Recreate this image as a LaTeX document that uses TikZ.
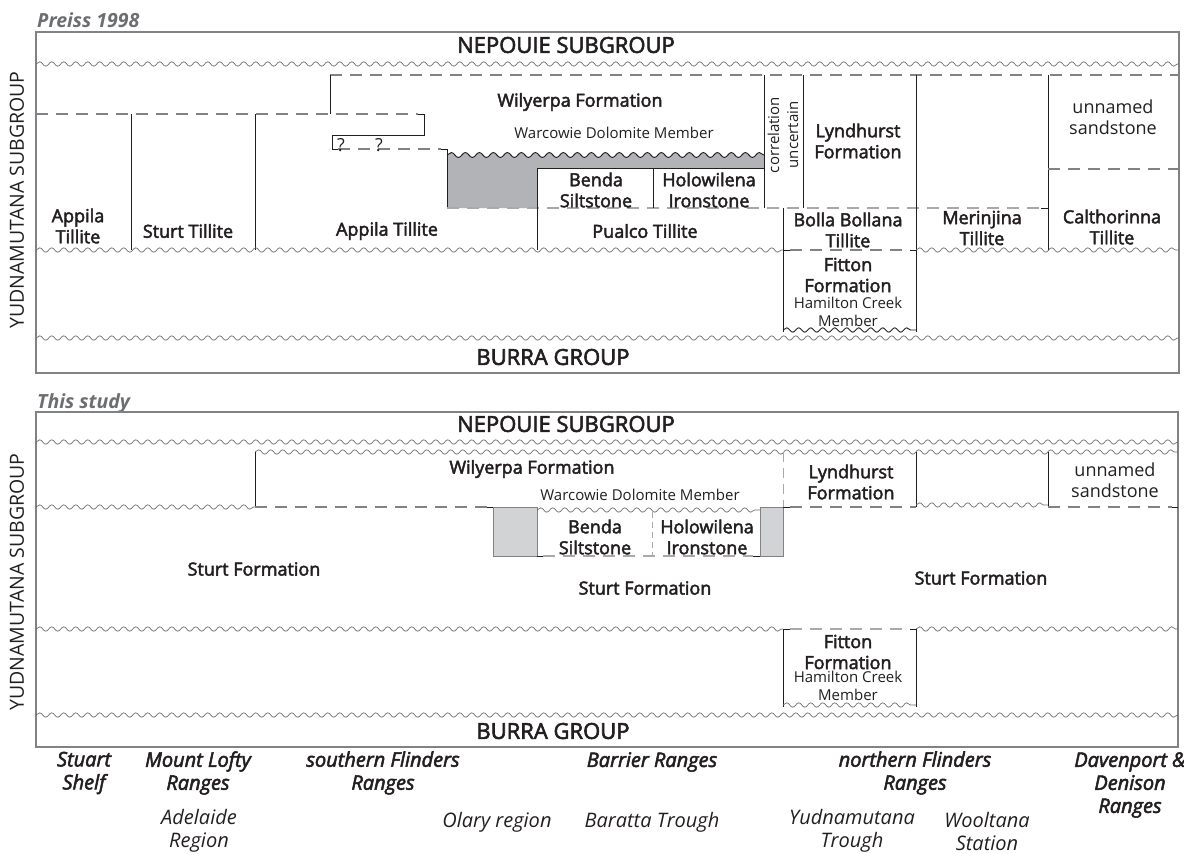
\documentclass[tikz,border=0pt]{standalone}
\usepackage{fontspec}
\setmainfont{Open Sans}
\newfontfamily\fmfont{Open Sans}[FakeBold=2.6]
\usetikzlibrary{positioning, decorations.pathmorphing}
\definecolor{ink}{HTML}{231F20}
\definecolor{framegray}{HTML}{808285}
\definecolor{wavegray}{HTML}{6D6E71}
\definecolor{dashdark}{HTML}{808285}
\definecolor{dashlight}{HTML}{A7A9AC}
\definecolor{shadeA}{HTML}{B1B3B6}
\definecolor{shadeB}{HTML}{D1D3D4}
\definecolor{titlegray}{HTML}{6D6E71}

\begin{document}
\begin{tikzpicture}[x=1pt, y=-1pt]
      \tikzstyle{frame} = [draw=framegray, line width=1.1pt]
      \tikzstyle{wavy} = [draw=wavegray, line width=0.7pt, decorate, decoration={snake, amplitude=2.2pt, segment length=12pt}]
      \tikzstyle{wavydark} = [draw=ink, line width=0.9pt, decorate, decoration={snake, amplitude=2.2pt, segment length=12pt}]
      \tikzstyle{contact} = [draw=ink, line width=0.9pt]
      \tikzstyle{uncertain} = [draw=dashdark, line width=1.1pt, dash pattern=on 12pt off 8pt]
      \tikzstyle{uncertainlt} = [draw=dashlight, line width=1.3pt, dash pattern=on 12pt off 8pt]
      \tikzstyle{panel} = [anchor=base west, inner sep=0pt, text=titlegray, font=\bfseries\itshape\fontsize{19.5}{22}\selectfont]
      \tikzstyle{group} = [inner sep=0pt, text=ink, font=\fmfont\fontsize{22}{26}\selectfont]
      \tikzstyle{formation} = [inner sep=0pt, align=center, text=ink, font=\fmfont\fontsize{18}{21}\selectfont]
      \tikzstyle{plain} = [inner sep=0pt, align=center, text=ink, font=\fontsize{18}{21}\selectfont]
      \tikzstyle{member} = [inner sep=0pt, align=center, text=ink, font=\fontsize{15}{18}\selectfont]
      \tikzstyle{region} = [inner sep=0pt, align=center, text=ink, font=\fmfont\itshape\fontsize{20}{23}\selectfont]
      \tikzstyle{locality} = [inner sep=0pt, align=center, text=ink, font=\itshape\fontsize{20}{23}\selectfont]

      \useasboundingbox (0,0) rectangle (1184,854);

      % Preiss 1998
      \node (preiss) [panel] at (37,27) {Preiss 1998};
      \draw [frame] (36,32) rectangle (1179,373);
      \draw [wavy] (36,64) -- (1179,64);
      \draw [uncertain] (330,75) -- (1179,75);
      \draw [contact] (330,75) -- (330,114);
      \draw [uncertain] (36,114) -- (418,114);
      \draw [contact] (418,114) -- (424,114) -- (424,135) -- (332,135) -- (332,149) -- (338,149);
      \draw [uncertain] (338,149) -- (441,149);
      \fill [shadeA] (447,155) decorate [decoration={snake, amplitude=2.5pt, segment length=14pt}] {-- (764,155)} -- (764,168) -- (537,168) -- (537,208) -- (447,208) -- cycle;
      \draw [wavydark, decoration={amplitude=2.5pt, segment length=14pt}] (447,155) -- (764,155);
      \draw [contact] (441,149) -- (447,149) -- (447,208);
      \draw [uncertainlt] (447,208) -- (1041,208);
      \draw [contact] (1041,208) -- (1048,208);
      \draw [contact] (537,168) -- (764,168);
      \draw [contact] (537,168) -- (537,250);
      \draw [contact] (653,168) -- (653,208);
      \draw [contact] (764,75) -- (764,208);
      \draw [contact] (803,75) -- (803,208);
      \draw [contact] (131,114) -- (131,250);
      \draw [contact] (255,114) -- (255,250);
      \draw [contact] (783,208) -- (783,332);
      \draw [contact] (916,75) -- (916,332);
      \draw [contact] (1048,75) -- (1048,250);
      \draw [uncertain] (1048,169) -- (1179,169);
      \draw [wavy] (36,250) -- (783,250);
      \draw [contact] (783,250) -- (790,250);
      \draw [uncertain] (790,250) -- (910,250);
      \draw [contact] (910,250) -- (916,250);
      \draw [wavy] (916,250) -- (1179,250);
      \draw [wavydark] (783,330) -- (916,330);
      \draw [wavy] (36,338) -- (1179,338);

      \node (nepA) [group] at (566,45) {NEPOUIE SUBGROUP};
      \node (burA) [group] at (553,357) {BURRA GROUP};
      \node (yudA) [rotate=90, inner sep=0pt, text=ink, font=\fontsize{19.5}{23}\selectfont] at (17,200) {YUDNAMUTANA SUBGROUP};
      \node (wilA) [formation] at (580,102) {Wilyerpa Formation};
      \node (warA) [member] at (614,133) {Warcowie Dolomite Member};
      \node (qmA) [plain] at (341,145) {?};
      \node (qmB) [plain] at (379,145) {?};
      \node (appA) [formation] at (78,226) {Appila\\Tillite};
      \node (sturtA) [formation] at (188,231) {Sturt Tillite};
      \node (appB) [formation] at (387,231) {Appila Tillite};
      \node (bendaA) [formation] at (596,190) {Benda\\Siltstone};
      \node (holoA) [formation] at (709,190) {Holowilena\\Ironstone};
      \node (pualco) [formation] at (645,231) {Pualco Tillite};
      \node (corr) [member, rotate=90, font=\fontsize{15}{19}\selectfont] at (783,135) {correlation\\uncertain};
      \node (lyndA) [formation] at (858,141) {Lyndhurst\\Formation};
      \node (bolla) [formation] at (848,230) {Bolla Bollana\\Tillite};
      \node (fittonA) [formation] at (848,275) {Fitton\\Formation};
      \node (hamA) [member] at (848,312) {Hamilton Creek\\Member};
      \node (merin) [formation] at (982,228) {Merinjina\\Tillite};
      \node (unnA) [plain] at (1113,117) {unnamed\\sandstone};
      \node (calth) [formation] at (1112,227) {Calthorinna\\Tillite};

      % This study
      \node (study) [panel] at (37,408) {This study};
      \draw [frame] (36,412) rectangle (1178,747);
      \draw [wavy] (36,442) -- (1178,442);
      \draw [wavy] (255,452) -- (1178,452);
      \draw [wavy] (36,507) -- (255,507);
      \draw [contact] (255,452) -- (255,507);
      \draw [uncertain] (255,507) -- (487,507);
      \draw [contact] (487,507) -- (493,507);
      \draw [draw=framegray, line width=0.9pt, fill=shadeB] (493,507) rectangle (537,556);
      \draw [draw=framegray, line width=0.9pt, fill=shadeB] (760,507) rectangle (783,556);
      \draw [contact] (537,556) -- (543,556);
      \draw [contact] (753,556) -- (760,556);
      \draw [wavy] (537,510) -- (760,510);
      \draw [uncertainlt] (543,556) -- (753,556);
      \draw [draw=dashlight, line width=1pt, dash pattern=on 6pt off 4pt] (652,512) -- (652,556);
      \draw [draw=dashlight, line width=1pt, dash pattern=on 10pt off 6pt] (783,452) -- (783,507);
      \draw [contact] (783,507) -- (790,507);
      \draw [uncertain] (790,507) -- (916,507);
      \draw [contact] (916,452) -- (916,507);
      \draw [wavy] (916,505) -- (1048,505);
      \draw [contact] (1048,452) -- (1048,507);
      \draw [uncertain] (1048,507) -- (1172,507);
      \draw [contact] (1172,507) -- (1178,507);
      \draw [wavy] (36,629) -- (783,629);
      \draw [contact] (783,629) -- (790,629);
      \draw [uncertainlt] (790,629) -- (910,629);
      \draw [contact] (910,629) -- (916,629);
      \draw [wavy] (916,629) -- (1178,629);
      \draw [contact] (783,629) -- (783,707);
      \draw [contact] (916,629) -- (916,707);
      \draw [wavy] (783,705) -- (916,705);
      \draw [wavy] (36,715) -- (1178,715);

      \node (nepB) [group] at (566,424) {NEPOUIE SUBGROUP};
      \node (burB) [group] at (553,731) {BURRA GROUP};
      \node (yudB) [rotate=90, inner sep=0pt, text=ink, font=\fontsize{19.5}{23}\selectfont] at (17,582) {YUDNAMUTANA SUBGROUP};
      \node (wilB) [formation] at (532,469) {Wilyerpa Formation};
      \node (warB) [member] at (640,495) {Warcowie Dolomite Member};
      \node (bendaB) [formation] at (595,537) {Benda\\Siltstone};
      \node (holoB) [formation] at (707,537) {Holowilena\\Ironstone};
      \node (lyndB) [formation] at (851,482) {Lyndhurst\\Formation};
      \node (unnB) [plain] at (1115,480) {unnamed\\sandstone};
      \node (sturtB) [formation] at (254,569) {Sturt Formation};
      \node (sturtC) [formation] at (645,588) {Sturt Formation};
      \node (sturtD) [formation] at (981,578) {Sturt Formation};
      \node (fittonB) [formation] at (848,652) {Fitton\\Formation};
      \node (hamB) [member] at (848,686) {Hamilton Creek\\Member};

      % regions
      \node (stuart) [region] at (84,773) {Stuart\\Shelf};
      \node (lofty) [region] at (198,773) {Mount Lofty\\Ranges};
      \node (sflind) [region] at (383,773) {southern Flinders\\Ranges};
      \node (barrier) [region] at (652,762) {Barrier Ranges};
      \node (nflind) [region] at (915,773) {northern Flinders\\Ranges};
      \node (daven) [region] at (1130,785) {Davenport \&\\Denison\\Ranges};
      \node (adel) [locality] at (199,831) {Adelaide\\Region};
      \node (olary) [locality] at (497,822) {Olary region};
      \node (baratta) [locality] at (652,822) {Baratta Trough};
      \node (yudt) [locality] at (852,831) {Yudnamutana\\Trough};
      \node (wool) [locality] at (987,831) {Wooltana\\Station};
\end{tikzpicture}
\end{document}
